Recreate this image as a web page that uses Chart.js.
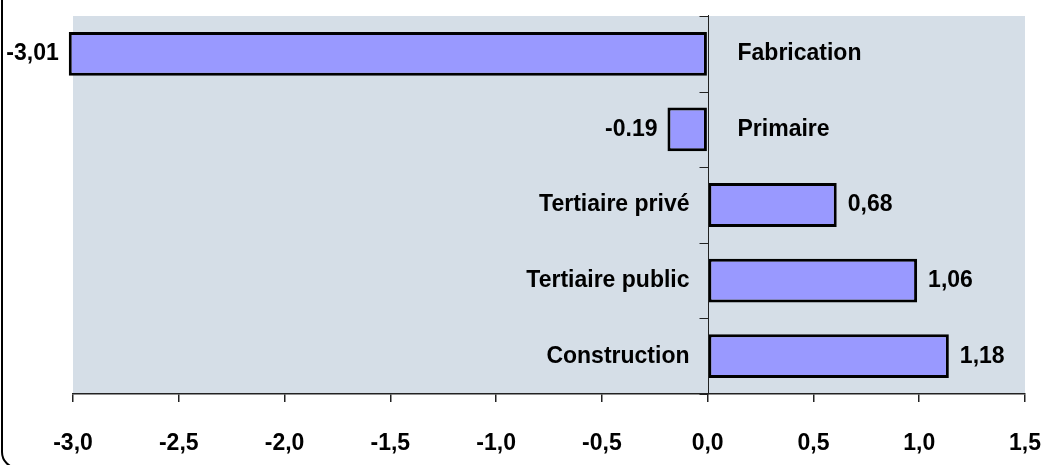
<!DOCTYPE html>
<html>
<head>
<meta charset="utf-8">
<script src="https://cdn.jsdelivr.net/npm/chart.js@4/dist/chart.umd.min.js"></script>
<style>
  body { margin: 0; background: #fff; }
  #wrap { width: 1042px; height: 465px; }
</style>
</head>
<body>
<div id="wrap"><canvas id="chart" width="1042" height="465"></canvas></div>
<script>
// data
var categories = ['Fabrication', 'Primaire', 'Tertiaire privé', 'Tertiaire public', 'Construction'];
var barValues = [-3.02, -0.19, 0.61, 0.99, 1.14];
var valueLabels = ['-3,01', '-0.19', '0,68', '1,06', '1,18'];
var xMin = -3.0, xMax = 1.5, xStep = 0.5;

var FAMILY = '"Liberation Sans", Arial, sans-serif';
var FONT = 'bold 23px ' + FAMILY;

// plot background + the rounded frame on the left
var backdrop = {
  id: 'backdrop',
  beforeDraw: function (chart) {
    var c = chart.ctx, a = chart.chartArea;
    c.save();
    c.fillStyle = '#d5dee7';
    c.fillRect(a.left, a.top, a.right - a.left, a.bottom - a.top);
    c.strokeStyle = '#000';
    c.lineWidth = 2;
    c.beginPath();
    c.roundRect(2, -20, 1100, 488, 16);
    c.stroke();
    c.restore();
  }
};

// zero line with category ticks, category names and value labels
var labelsPlugin = {
  id: 'labelsPlugin',
  afterDatasetsDraw: function (chart) {
    var c = chart.ctx, a = chart.chartArea;
    var xs = chart.scales.x;
    var x0 = Math.round(xs.getPixelForValue(0)) + 0.5;
    c.save();
    c.strokeStyle = '#222';
    c.lineWidth = 1;
    c.beginPath();
    c.moveTo(x0, a.top - 1);
    c.lineTo(x0, a.bottom);
    var n = categories.length;
    var step = (a.bottom - a.top) / n;
    for (var i = 0; i <= n; i++) {
      var yy = Math.round(a.top + i * step) + 0.5;
      c.moveTo(x0 - 9, yy);
      c.lineTo(x0, yy);
    }
    c.stroke();

    c.font = FONT;
    c.fillStyle = '#000';
    c.textBaseline = 'middle';
    var meta = chart.getDatasetMeta(0);
    meta.data.forEach(function (bar, i) {
      var y = bar.y;
      if (barValues[i] < 0) {
        c.textAlign = 'left';
        c.fillText(categories[i], x0 + 29, y);
        c.textAlign = 'right';
        c.fillText(valueLabels[i], bar.x - 10, y);
      } else {
        c.textAlign = 'right';
        c.fillText(categories[i], x0 - 19, y);
        c.textAlign = 'left';
        c.fillText(valueLabels[i], bar.x + 11, y);
      }
    });
    c.restore();
  }
};

var ctx = document.getElementById('chart').getContext('2d');
var chart = new Chart(ctx, {
  type: 'bar',
  data: {
    labels: categories,
    datasets: [{
      data: barValues,
      backgroundColor: '#9999ff',
      borderColor: '#000',
      borderWidth: 3,
      borderSkipped: false,
      barPercentage: 0.58,
      categoryPercentage: 1,
      clip: false
    }]
  },
  options: {
    indexAxis: 'y',
    responsive: false,
    animation: false,
    devicePixelRatio: 1,
    layout: { padding: { left: 73, right: 17, top: 16, bottom: 11 } },
    plugins: {
      legend: { display: false },
      tooltip: { enabled: false }
    },
    scales: {
      x: {
        min: xMin,
        max: xMax,
        afterFit: function (scale) {
          scale.height = 60;
          scale.paddingLeft = 0;
          scale.paddingRight = 0;
        },
        ticks: {
          stepSize: xStep,
          padding: 28,
          color: '#000',
          font: { family: FAMILY, size: 23, weight: 'bold' },
          maxRotation: 0,
          callback: function (v) {
            var s = Math.abs(v) < 1e-9 ? '0.0' : Number(v).toFixed(1);
            return s.replace('.', ',');
          }
        },
        grid: {
          drawOnChartArea: false,
          drawTicks: true,
          tickLength: 8,
          color: '#222',
          lineWidth: 1.5
        },
        border: { display: true, color: '#222', width: 1.5 }
      },
      y: {
        display: false
      }
    }
  },
  plugins: [backdrop, labelsPlugin]
});
</script>
</body>
</html>
